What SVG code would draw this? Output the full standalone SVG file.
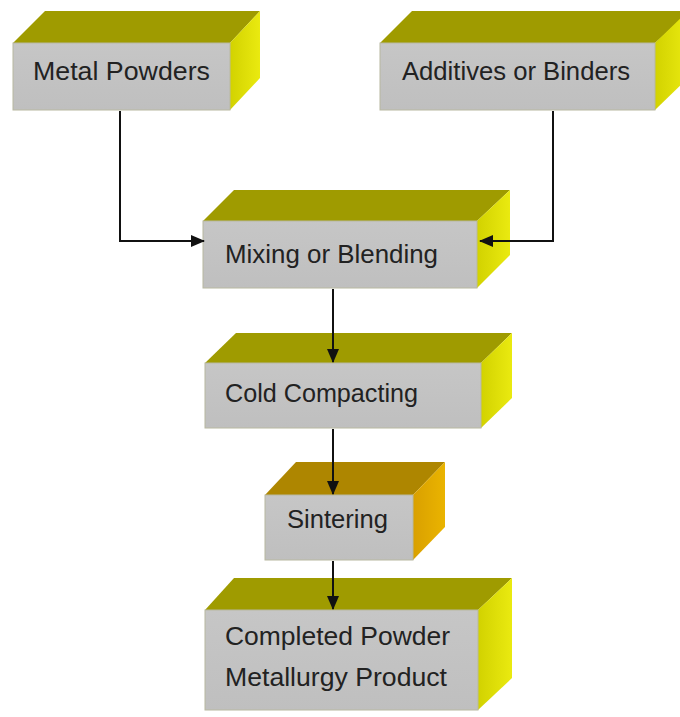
<svg xmlns="http://www.w3.org/2000/svg" width="680" height="717" viewBox="0 0 680 717">
<defs>
<linearGradient id="side" x1="0" y1="0" x2="1" y2="0">
<stop offset="0" stop-color="#d2d200"/>
<stop offset="1" stop-color="#eaea10"/>
</linearGradient>
<linearGradient id="sideOr" x1="0" y1="0" x2="1" y2="0">
<stop offset="0" stop-color="#d9a000"/>
<stop offset="1" stop-color="#eab400"/>
</linearGradient>
<linearGradient id="front" x1="0" y1="0" x2="0" y2="1">
<stop offset="0" stop-color="#c6c6c6"/>
<stop offset="1" stop-color="#bfbfbf"/>
</linearGradient>
<marker id="ah" markerWidth="10" markerHeight="10" refX="9" refY="5" orient="auto" markerUnits="userSpaceOnUse" viewBox="0 0 10 10">
<path d="M0,0 L10,5 L0,10 z" fill="#111"/>
</marker>
<marker id="ahL" markerWidth="14" markerHeight="12" refX="13" refY="6" orient="auto" markerUnits="userSpaceOnUse" viewBox="0 0 14 12">
<path d="M0,0 L14,6 L0,12 z" fill="#111"/>
</marker>
</defs>
<style>
.top{fill:#9f9b00}
.topOr{fill:#ae8600}
.side{fill:url(#side)}
.sideOr{fill:url(#sideOr)}
.front{fill:url(#front);stroke:#b8b8a0;stroke-width:1}
.t{font-family:"Liberation Sans",Arial,sans-serif;font-size:25px;fill:#222}
.c{fill:none;stroke:#111;stroke-width:2}
</style>
<rect width="680" height="717" fill="#fff"/>

<g id="metal-powders">
<polygon class="top" points="13,43 45,11 260,11 230,43"/>
<polygon class="side" points="230,43 260,11 260,78 230,110"/>
<rect class="front" x="13" y="43" width="217" height="67"/>
<text class="t" x="33" y="80" textLength="177" lengthAdjust="spacingAndGlyphs">Metal Powders</text>
</g>

<g id="additives-binders">
<polygon class="top" points="380,43 412,11 690,11 655,43"/>
<polygon class="side" points="655,43 688,11 688,78 655,110"/>
<rect class="front" x="380" y="43" width="275" height="67"/>
<text class="t" x="402" y="80" textLength="228" lengthAdjust="spacingAndGlyphs">Additives or Binders</text>
</g>

<g id="mixing-blending">
<polygon class="top" points="203,221 234,190 510,190 477,221"/>
<polygon class="side" points="477,221 510,190 510,255 477,288"/>
<rect class="front" x="203" y="221" width="274" height="67"/>
<text class="t" x="225" y="263" textLength="213" lengthAdjust="spacingAndGlyphs">Mixing or Blending</text>
</g>

<g id="cold-compacting">
<polygon class="top" points="205,363 236,333 512,333 481,363"/>
<polygon class="side" points="481,363 512,333 512,398 481,428"/>
<rect class="front" x="205" y="363" width="276" height="65"/>
<text class="t" x="225" y="402" textLength="193" lengthAdjust="spacingAndGlyphs">Cold Compacting</text>
</g>

<g id="sintering">
<polygon class="topOr" points="265,495 296,462 445,462 413,495"/>
<polygon class="sideOr" points="413,495 445,462 445,527 413,560"/>
<rect class="front" x="265" y="495" width="148" height="65"/>
<text class="t" x="287" y="528" textLength="101" lengthAdjust="spacingAndGlyphs">Sintering</text>
</g>

<g id="completed-product">
<polygon class="top" points="205,610 234,578 512,578 478,610"/>
<polygon class="side" points="478,610 512,578 512,678 478,710"/>
<rect class="front" x="205" y="610" width="273" height="100"/>
<text class="t" x="225" y="645" textLength="225" lengthAdjust="spacingAndGlyphs">Completed Powder</text>
<text class="t" x="225" y="686" textLength="222" lengthAdjust="spacingAndGlyphs">Metallurgy Product</text>
</g>

<g id="connectors">
<path class="c" d="M120,111 V241 H204" marker-end="url(#ahL)"/>
<path class="c" d="M553,111 V241 H480" marker-end="url(#ahL)"/>
<path class="c" d="M333,289 V362" marker-end="url(#ahL)"/>
<path class="c" d="M333,429 V494" marker-end="url(#ahL)"/>
<path class="c" d="M333,561 V609" marker-end="url(#ahL)"/>
</g>
</svg>
